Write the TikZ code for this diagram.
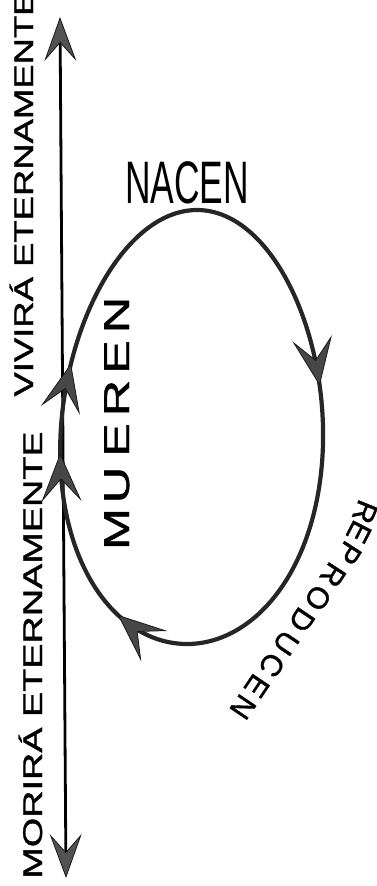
\documentclass[tikz,border=0pt]{standalone}
\usepackage{fontspec}
\setmainfont{Liberation Sans}
\newfontfamily\heavysans[FakeBold=1.2]{Liberation Sans}
\usetikzlibrary{arrows.meta}
\tikzset{
  bigtip/.tip={Stealth[length=48pt,width=40pt,inset=22pt,line width=0.8pt,fill=black!72,color=black!90]},
  axtip/.tip={Stealth[length=44pt,width=32pt,inset=18pt,line width=0.8pt,fill=black!68,color=black!90]},
  cycleline/.style={line width=4.2pt, draw=black!85},
  axisline/.style={line width=2.8pt, draw=black},
  lbl/.style={inner sep=0pt, anchor=base, text=black},
  sidefont/.style={font=\heavysans\fontsize{27}{30}\selectfont},
  mufont/.style={font=\heavysans\fontsize{36}{38}\selectfont},
  repfont/.style={font=\heavysans\fontsize{30}{32}\selectfont},
}
\begin{document}
\begin{tikzpicture}[x=1pt,y=-1pt]
\useasboundingbox (0,0) rectangle (377,886);
\clip (0,0) rectangle (377,886);
% vertical axis
\coordinate (axtop) at (60,17);
\coordinate (axbot) at (66,878);
\draw[axisline, {axtip}-{axtip}] (axtop) -- (axbot);
% cycle
\draw[cycleline] plot[domain=-90:268, samples=180, smooth cycle, variable=\t]
  ({192-5*sin(\t)+(131+10*sin(\t))*cos(\t)}, {427+217*sin(\t)});
% arrowheads on cycle
\foreach \t [count=\i] in {-11,120,173,197} {
  \coordinate (s\i) at ({192-5*sin(\t-4)+(131+10*sin(\t-4))*cos(\t-4)}, {427+217*sin(\t-4)});
  \coordinate (e\i) at ({192-5*sin(\t)+(131+10*sin(\t))*cos(\t)}, {427+217*sin(\t)});
  \draw[cycleline, -{bigtip}] (s\i) -- (e\i);
}
% side labels
\node[lbl, sidefont, rotate=90] (vivira) at (33,194) {\scalebox{1.35}[1]{VIVIRÁ ETERNAMENTE}};
\node[lbl, sidefont, rotate=90] (morira) at (42,655) {\scalebox{1.40}[1]{MORIRÁ ETERNAMENTE}};
% NACEN
\node[lbl, font=\fontsize{60}{62}\selectfont] (nacen) at (187,203) {\scalebox{0.59}[1]{NACEN}};
% MUEREN
\foreach \l/\y in {M/529,U/485,E/440,R/398,E/357,N/315}
  \node[lbl, mufont, rotate=90] (mu\y) at (129,\y) {\scalebox{1.4}[1]{\l}};
% REPRODUCEN
\foreach \l/\x/\y/\r [count=\i] in {R/365/512/-112, E/359/532/-117, P/349/553/-123, R/333/575/-123, O/318/598/-124, D/302/620/-124, U/286/643/-124, C/272/665/-124, E/257/686/-124, N/243/707/-124}
  \node[repfont, inner sep=0pt, anchor=center, rotate=\r] (rep\i) at (\x,\y) {\l};
\end{tikzpicture}
\end{document}
